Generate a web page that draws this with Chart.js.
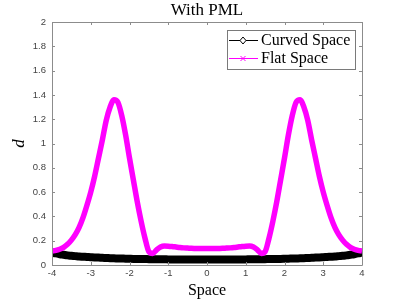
<!DOCTYPE html>
<html>
<head>
<meta charset="utf-8">
<script src="https://cdn.jsdelivr.net/npm/chart.js@4/dist/chart.umd.min.js"></script>
<style>
  html, body { margin: 0; padding: 0; background: #fff; }
  #wrap { width: 400px; height: 300px; }
</style>
</head>
<body>
<div id="wrap"><canvas id="pmlChart"></canvas></div>
<script>
// sample positions along the space axis
const space = [
  -4.0, -3.9, -3.8, -3.7, -3.6, -3.5, -3.4, -3.3, -3.2, -3.1,
  -3.0, -2.9, -2.8, -2.7, -2.6, -2.5, -2.4, -2.3, -2.2, -2.1,
  -2.0, -1.9, -1.8, -1.7, -1.6, -1.5, -1.4, -1.3, -1.2, -1.1,
  -1.0, -0.9, -0.8, -0.7, -0.6, -0.5, -0.4, -0.3, -0.2, -0.1,
  0.0, 0.1, 0.2, 0.3, 0.4, 0.5, 0.6, 0.7, 0.8, 0.9,
  1.0, 1.1, 1.2, 1.3, 1.4, 1.5, 1.6, 1.7, 1.8, 1.9,
  2.0, 2.1, 2.2, 2.3, 2.4, 2.5, 2.6, 2.7, 2.8, 2.9,
  3.0, 3.1, 3.2, 3.3, 3.4, 3.5, 3.6, 3.7, 3.8, 3.9, 4.0
];

const curvedSpace = [
  0.103, 0.095, 0.089, 0.084, 0.079, 0.076, 0.073, 0.070, 0.068, 0.066,
  0.064, 0.062, 0.061, 0.059, 0.058, 0.056, 0.055, 0.054, 0.053, 0.052,
  0.051, 0.050, 0.050, 0.049, 0.049, 0.048, 0.048, 0.047, 0.047, 0.047,
  0.046, 0.046, 0.046, 0.045, 0.045, 0.045, 0.045, 0.045, 0.045, 0.045,
  0.045, 0.045, 0.045, 0.045, 0.045, 0.045, 0.045, 0.045, 0.046, 0.046,
  0.046, 0.047, 0.047, 0.047, 0.048, 0.048, 0.049, 0.049, 0.050, 0.050,
  0.051, 0.052, 0.053, 0.054, 0.055, 0.056, 0.058, 0.059, 0.061, 0.062,
  0.064, 0.066, 0.068, 0.070, 0.073, 0.076, 0.079, 0.084, 0.089, 0.095, 0.103
];

const flatSpace = [
  0.115, 0.120, 0.130, 0.145, 0.170, 0.205, 0.250, 0.310, 0.390, 0.490,
  0.600, 0.730, 0.880, 1.030, 1.190, 1.300, 1.360, 1.340, 1.230, 1.070,
  0.880, 0.700, 0.520, 0.360, 0.220, 0.110, 0.095, 0.125, 0.148, 0.156,
  0.155, 0.152, 0.148, 0.144, 0.141, 0.139, 0.137, 0.136, 0.135, 0.135,
  0.135, 0.135, 0.135, 0.136, 0.137, 0.139, 0.141, 0.144, 0.148, 0.152,
  0.155, 0.156, 0.148, 0.125, 0.095, 0.110, 0.220, 0.360, 0.520, 0.700,
  0.880, 1.070, 1.230, 1.340, 1.360, 1.300, 1.190, 1.030, 0.880, 0.730,
  0.600, 0.490, 0.390, 0.310, 0.250, 0.205, 0.170, 0.145, 0.130, 0.120, 0.115
];

const seriesNames = ["Curved Space", "Flat Space"];
const xTicks = [-4, -3, -2, -1, 0, 1, 2, 3, 4];
const yTicks = [0, 0.2, 0.4, 0.6, 0.8, 1, 1.2, 1.4, 1.6, 1.8, 2];

const serif = "'Liberation Serif', 'DejaVu Serif', serif";
const sans = "'Liberation Sans', Arial, sans-serif";
const axisGray = "#8c8c8c";

// matlab style box with ticks pointing inwards
const boxPlugin = {
  id: "boxTicks",
  afterDraw(chart) {
    const { ctx, chartArea: a, scales } = chart;
    ctx.save();
    ctx.strokeStyle = axisGray;
    ctx.lineWidth = 1;
    ctx.beginPath();
    ctx.rect(Math.round(a.left) + 0.5, Math.round(a.top) + 0.5,
      Math.round(a.right - a.left), Math.round(a.bottom - a.top));
    xTicks.forEach((v) => {
      const px = Math.round(scales.x.getPixelForValue(v)) + 0.5;
      ctx.moveTo(px, a.bottom); ctx.lineTo(px, a.bottom - 3);
      ctx.moveTo(px, a.top); ctx.lineTo(px, a.top + 3);
    });
    yTicks.forEach((v) => {
      const py = Math.round(scales.y.getPixelForValue(v)) + 0.5;
      ctx.moveTo(a.left, py); ctx.lineTo(a.left + 3, py);
      ctx.moveTo(a.right, py); ctx.lineTo(a.right - 3, py);
    });
    ctx.stroke();

    // legend box in the top right corner
    const lx = 227, ly = 30, lw = 128, lh = 39;
    ctx.fillStyle = "#fff";
    ctx.fillRect(lx, ly, lw, lh);
    ctx.strokeStyle = "#7a7a7a";
    ctx.strokeRect(lx + 0.5, ly + 0.5, lw, lh);
    ctx.font = "16px " + serif;
    ctx.textBaseline = "middle";
    chart.data.datasets.forEach((ds, i) => {
      const y = ly + 10.5 + i * 18;
      ctx.strokeStyle = ds.borderColor;
      ctx.lineWidth = 1;
      ctx.beginPath();
      ctx.moveTo(lx + 2, y); ctx.lineTo(lx + 31, y);
      ctx.stroke();
      ctx.beginPath();
      const mx = lx + 16;
      if (ds.legendMarker === "diamond") {
        ctx.fillStyle = "#fff";
        ctx.moveTo(mx, y - 3.5); ctx.lineTo(mx + 3, y);
        ctx.lineTo(mx, y + 3.5); ctx.lineTo(mx - 3, y); ctx.closePath();
        ctx.fill();
      } else {
        ctx.moveTo(mx - 2.5, y - 2.5); ctx.lineTo(mx + 2.5, y + 2.5);
        ctx.moveTo(mx + 2.5, y - 2.5); ctx.lineTo(mx - 2.5, y + 2.5);
      }
      ctx.stroke();
      ctx.fillStyle = "#000";
      ctx.fillText(ds.label, lx + 34, y + 0.5);
    });
    ctx.restore();
  }
};

const toPoints = (vals) => space.map((x, i) => ({ x: x, y: vals[i] }));

new Chart(document.getElementById("pmlChart"), {
  type: "line",
  data: {
    datasets: [
      {
        label: seriesNames[0],
        data: toPoints(curvedSpace),
        borderColor: "#000000",
        backgroundColor: "#000000",
        borderWidth: 8,
        pointRadius: 0,
        cubicInterpolationMode: "monotone",
        legendMarker: "diamond",
        order: 1,
      },
      {
        label: seriesNames[1],
        data: toPoints(flatSpace),
        borderColor: "#ff00ff",
        backgroundColor: "#ff00ff",
        borderWidth: 5.5,
        pointRadius: 0,
        cubicInterpolationMode: "monotone",
        legendMarker: "cross",
        order: 0,
      },
    ],
  },
  options: {
    responsive: true,
    maintainAspectRatio: false,
    animation: false,
    events: [],
    layout: { padding: { left: 0, right: 38, top: 0, bottom: 0 } },
    plugins: {
      legend: { display: false },
      tooltip: { enabled: false },
      title: {
        display: true,
        fullSize: false,
        text: "With PML",
        color: "#000",
        font: { family: serif, size: 17, weight: "normal", lineHeight: 1.2 },
        padding: { top: 0, bottom: 1.6 },
      },
    },
    scales: {
      x: {
        type: "linear",
        min: -4,
        max: 4,
        afterFit: (scale) => { scale.height = 35; },
        afterBuildTicks: (scale) => { scale.ticks = xTicks.map((v) => ({ value: v })); },
        grid: { display: false, drawTicks: false },
        border: { display: false },
        ticks: { color: "#444", padding: 3, font: { family: sans, size: 9.5 } },
        title: {
          display: true,
          text: "Space",
          color: "#000",
          font: { family: serif, size: 16, lineHeight: 1.2 },
          padding: { top: 0, bottom: 0 },
        },
      },
      y: {
        min: 0,
        max: 2,
        afterFit: (scale) => { scale.width = 52; },
        afterBuildTicks: (scale) => { scale.ticks = yTicks.map((v) => ({ value: v })); },
        grid: { display: false, drawTicks: false },
        border: { display: false },
        ticks: {
          color: "#444",
          padding: 6,
          font: { family: sans, size: 9.5 },
          callback: (v) => String(Math.round(v * 10) / 10),
        },
        title: {
          display: true,
          text: "d",
          color: "#000",
          font: { family: serif, size: 17, style: "italic", lineHeight: 1.2 },
          padding: { top: 9, bottom: 0 },
        },
      },
    },
  },
  plugins: [boxPlugin],
});
</script>
</body>
</html>
